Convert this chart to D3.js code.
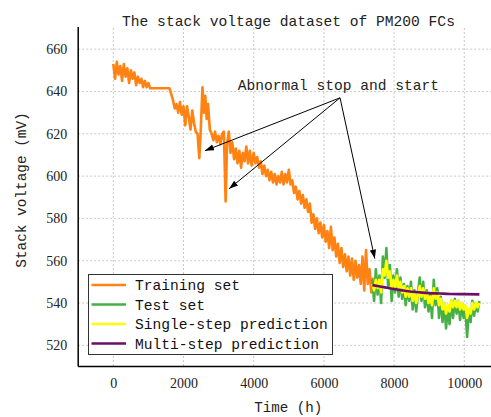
<!DOCTYPE html>
<html><head><meta charset="utf-8">
<script src="https://cdn.jsdelivr.net/npm/d3@7"></script>
<style>body{margin:0;background:#fff}svg{display:block}</style>
</head><body>
<svg id="c" width="491" height="417"></svg>
<script>
const title = "The stack voltage dataset of PM200 FCs";
const xLabel = "Time (h)";
const yLabel = "Stack voltage (mV)";
const xTicks = [0, 2000, 4000, 6000, 8000, 10000];
const yTicks = [520, 540, 560, 580, 600, 620, 640, 660];
const seriesNames = ["Training set", "Test set", "Single-step prediction", "Multi-step prediction"];
const annotationText = "Abnormal stop and start";
const annotationFrom = [6460, 637];
const annotationTargets = [[2610, 612], [3300, 594], [7450, 561]];

// training set [time, voltage]
const training = [
[0,653],[50,646],[100,654],[150,648],[200,652],[250,645],[300,653],[350,647],[400,651],[450,644],
[500,650],[550,646],[600,649],[650,643],[700,647],[750,644],[800,646],[850,642],[900,645],[950,642],
[1000,644],[1050,641.5],[1600,641.5],[1700,636],[1750,632],[1800,634],[1850,630],[1900,635],[1950,629],
[2000,633],[2050,624],[2100,633],[2150,628],[2200,622],[2250,631],[2300,625],[2350,621],[2400,620],
[2450,608.5],[2490,621],[2540,642],[2580,630],[2620,638],[2660,627],[2700,634],[2750,622],[2800,620],
[2850,617],[2900,621],[2950,616],[3000,619],[3050,615],[3100,620],[3150,621],[3200,588],[3240,615],
[3290,621],[3340,611],[3390,616],[3440,608],[3490,613],[3540,606],[3590,612],[3640,604],[3690,611],
[3740,607],[3790,614],[3840,606],[3890,612],[3940,605],[4000,611],[4050,606],[4100,609],[4150,604],
[4200,607],[4250,601],[4300,605],[4350,600],[4400,603],[4450,598],[4500,602],[4550,597],[4600,601],
[4650,596],[4700,600],[4750,597],[4800,602],[4850,596],[4900,601],[4950,597],[5000,603],[5050,596],
[5100,598],[5150,592],[5200,595],[5250,589],[5300,593],[5350,587],[5400,591],[5450,585],[5500,589],
[5550,583],[5600,587],[5650,578],[5700,582],[5750,575],[5800,580],[5850,573],[5900,578],[5950,571],
[6000,577],[6050,569],[6100,574],[6150,566],[6200,576],[6250,565],[6300,571],[6350,562],[6400,568],
[6450,559],[6500,566],[6550,557],[6600,563],[6650,555],[6700,562],[6750,553],[6800,561],[6850,551],
[6900,560],[6950,552],[7000,558],[7050,549],[7100,562],[7150,546],[7200,565],[7250,549],[7300,556],
[7350,545],[7400,552]
];

const testTime = [7380,7430,7480,7530,7580,7630,7680,7730,7780,7830,7880,7930,7980,8030,8080,8130,8180,8230,
8280,8330,8380,8430,8480,8530,8580,8630,8680,8730,8780,8830,8880,8930,8980,9030,9080,9130,9180,9230,9280,
9330,9380,9430,9480,9530,9580,9630,9680,9730,9780,9830,9880,9930,9980,10030,10080,10130,10180,10230,10280,
10330,10380,10430];
const testSet = [551,541,556,544,553,540,562,552,566,548,558,541,553,545,556,543,552,542,549,539,548,541,550,
537,546,536,545,552,541,550,538,546,536,544,533,551,539,547,533,543,531,540,528,538,530,541,533,542,535,541,
532,540,533,538,524,537,531,541,534,540,536,541];
const singleStep = [549,546,551,547,551,545,556,553,560,552,555,547,551,547,553,547,550,545,548,543,547,543,547,
541,545,540,544,548,543,547,542,545,540,543,539,547,542,545,539,542,537,540,535,539,536,541,538,541,538,541,
537,540,537,539,533,537,535,540,537,540,538,540];
const multiTime = [7380,7600,7800,8000,8200,8400,8600,8800,9000,9300,9600,10000,10430];
const multiStep = [548.5,547.8,547.2,546.6,546.1,545.6,545.2,544.9,544.7,544.5,544.3,544.2,544.1];

const colors = ["#ff8213", "#47b045", "#ffff00", "#6b0f6b"];
const monoFont = "'Liberation Mono', 'DejaVu Sans Mono', monospace";
const numFont = "'Liberation Serif', serif";

const svg = d3.select("#c");
const x = d3.scaleLinear().domain([-1000, 11000]).range([78.2, 499.4]);
const y = d3.scaleLinear().domain([510, 670]).range([366.5, 28]);
const L = 78.2, R = 491, T = 28, B = 366.5;

// grid
const grid = svg.append("g").attr("stroke", "#c8c8c8").attr("stroke-width", 1).attr("stroke-dasharray", "2,2");
xTicks.forEach(t => grid.append("line").attr("x1", x(t)).attr("x2", x(t)).attr("y1", T).attr("y2", B));
yTicks.forEach(t => grid.append("line").attr("x1", L).attr("x2", R).attr("y1", y(t)).attr("y2", y(t)));

// axes (labels)
const gx = svg.append("g").attr("transform", `translate(0,${B})`)
  .call(d3.axisBottom(x).tickValues(xTicks).tickSize(0).tickPadding(12).tickFormat(d3.format("d")));
const gy = svg.append("g").attr("transform", `translate(${L},0)`)
  .call(d3.axisLeft(y).tickValues(yTicks).tickSize(0).tickPadding(11));
[gx, gy].forEach(g => {
  g.select(".domain").remove();
  g.selectAll("text").attr("font-family", numFont).attr("font-size", 14).attr("fill", "#222");
});
svg.append("line").attr("x1", L).attr("x2", L).attr("y1", T - 1).attr("y2", B).attr("stroke", "#000").attr("stroke-width", 1.5);
svg.append("line").attr("x1", L).attr("x2", R).attr("y1", B).attr("y2", B).attr("stroke", "#000").attr("stroke-width", 1.5);

// lines
const line = d3.line().x(d => x(d[0])).y(d => y(d[1]));
svg.append("path").attr("d", line(training)).attr("fill", "none").attr("stroke", colors[0]).attr("stroke-width", 2.6).attr("stroke-linejoin", "round");
svg.append("path").attr("d", line(testTime.map((t, i) => [t, testSet[i]]))).attr("fill", "none").attr("stroke", colors[1]).attr("stroke-width", 2.6).attr("stroke-linejoin", "round");
svg.append("path").attr("d", line(testTime.map((t, i) => [t, singleStep[i]]))).attr("fill", "none").attr("stroke", colors[2]).attr("stroke-width", 2.6).attr("stroke-linejoin", "round");
svg.append("path").attr("d", line.curve(d3.curveMonotoneX)(multiTime.map((t, i) => [t, multiStep[i]]))).attr("fill", "none").attr("stroke", colors[3]).attr("stroke-width", 2.6);

// annotation arrows
const defs = svg.append("defs");
defs.append("marker").attr("id", "ah").attr("viewBox", "0 0 10 10").attr("refX", 10).attr("refY", 5)
  .attr("markerWidth", 9).attr("markerHeight", 9).attr("markerUnits", "userSpaceOnUse").attr("orient", "auto")
  .append("path").attr("d", "M0,1.5 L10,5 L0,8.5 Z").attr("fill", "#000");
annotationTargets.forEach(p => {
  svg.append("line").attr("x1", x(annotationFrom[0])).attr("y1", y(annotationFrom[1]))
    .attr("x2", x(p[0])).attr("y2", y(p[1])).attr("stroke", "#000").attr("stroke-width", 1).attr("marker-end", "url(#ah)");
});
svg.append("text").attr("x", 237.7).attr("y", 90).attr("font-family", monoFont).attr("font-size", 14.6)
  .attr("fill", "#222").text(annotationText);

// legend
const lg = svg.append("g");
lg.append("rect").attr("x", 88.5).attr("y", 274.5).attr("width", 244).attr("height", 80)
  .attr("fill", "#fff").attr("stroke", "#333").attr("stroke-width", 1);
const rowY = [285, 304.5, 324, 343.5];
seriesNames.forEach((n, i) => {
  lg.append("line").attr("x1", 91.5).attr("x2", 126).attr("y1", rowY[i]).attr("y2", rowY[i])
    .attr("stroke", colors[i]).attr("stroke-width", 2.6);
  lg.append("text").attr("x", 135).attr("y", rowY[i]).attr("dy", "0.35em").attr("font-family", monoFont)
    .attr("font-size", 14.6).attr("fill", "#111").text(n);
});

// titles
svg.append("text").attr("x", 288.5).attr("y", 26).attr("text-anchor", "middle").attr("font-family", monoFont)
  .attr("font-size", 14.6).attr("fill", "#222").text(title);
svg.append("text").attr("x", 288.3).attr("y", 411.5).attr("text-anchor", "middle").attr("font-family", monoFont)
  .attr("font-size", 14.2).attr("fill", "#222").text(xLabel);
svg.append("text").attr("transform", "translate(26,190) rotate(-90)").attr("text-anchor", "middle")
  .attr("font-family", monoFont).attr("font-size", 14.4).attr("fill", "#222").text(yLabel);
</script>
</body></html>
